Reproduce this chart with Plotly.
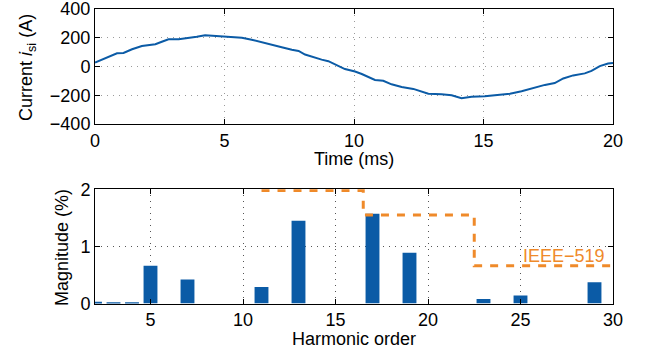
import plotly.graph_objects as go

# ---- data: current waveform ----
time_ms = [0.0, 0.4, 0.85, 1.1, 1.43, 1.81, 2.13, 2.33, 2.58, 2.84, 3.23, 3.55, 3.93, 4.25, 4.58,
           5.03, 5.28, 5.67, 6.05, 6.44, 6.83, 7.21, 7.6, 7.86, 8.11, 8.37, 8.75, 9.01, 9.33, 9.65,
           10.04, 10.3, 10.81, 11.13, 11.45, 11.84, 12.29, 12.61, 12.87, 13.38, 13.77, 14.15, 14.54,
           15.05, 15.44, 16.02, 16.47, 16.98, 17.37, 17.75, 18.08, 18.46, 18.91, 19.17, 19.49, 19.81, 20.0]
current_a = [28, 58, 92, 94, 120, 143, 150, 155, 172, 189, 189, 196, 207, 217, 212,
             207, 205, 200, 186, 170, 150, 134, 117, 108, 83, 67, 48, 37, 10, -18,
             -35, -52, -94, -99, -124, -142, -156, -172, -190, -193, -200, -221, -211,
             -207, -202, -190, -172, -147, -128, -115, -83, -62, -48, -30, 3, 21, 24]

# ---- data: harmonic spectrum ----
harmonic_order = list(range(2, 31))
magnitude_pct = [0.03, 0.01, 0.01, 0.66, 0, 0.42, 0, 0, 0, 0.29, 0, 1.45, 0, 0, 0,
                 1.57, 0, 0.89, 0, 0, 0, 0.08, 0, 0.14, 0, 0, 0, 0.37, 0]

# ---- data: IEEE-519 limit line ----
limit_x = [11, 16.5, 16.5, 22.5, 22.5, 30]
limit_y = [1.98, 1.98, 1.55, 1.55, 0.66, 0.66]
limit_label = "IEEE\u2212519"

x_ticks_top = [0, 5, 10, 15, 20]
y_ticks_top = [-400, -200, 0, 200, 400]
x_ticks_bot = [5, 10, 15, 20, 25, 30]
y_ticks_bot = [0, 1, 2]

BLUE = "#0b5ba6"
ORANGE = "#ef8a2a"
FONT = "Liberation Sans, Arial, sans-serif"
FS = 18


def axis_style(gridcolor):
    return dict(showline=True, linecolor="black", linewidth=1, mirror="allticks",
                ticks="inside", ticklen=5, tickcolor="black", automargin=False,
                ticklabeloverflow="allow",
                showgrid=True, gridcolor=gridcolor, griddash="1px,5px", gridwidth=1,
                zeroline=False, tickfont=dict(family=FONT, size=FS, color="black"))


fig = go.Figure()
fig.add_trace(go.Scatter(x=time_ms, y=current_a, mode="lines",
                         line=dict(color=BLUE, width=2), xaxis="x", yaxis="y",
                         showlegend=False))
fig.add_trace(go.Bar(x=harmonic_order, y=magnitude_pct, width=0.75,
                     marker=dict(color=BLUE, line=dict(width=0)),
                     xaxis="x2", yaxis="y2", showlegend=False))
fig.add_trace(go.Scatter(x=limit_x, y=limit_y, mode="lines",
                         line=dict(color=ORANGE, width=3, dash="8px,8px"),
                         xaxis="x2", yaxis="y2", showlegend=False))

xd = [95 / 646, 613 / 646]
fig.update_layout(
    width=646, height=358, margin=dict(l=0, r=0, t=0, b=0, pad=0, autoexpand=False),
    paper_bgcolor="white", plot_bgcolor="white",
    xaxis=dict(domain=xd, range=[0, 20], tickvals=x_ticks_top, anchor="y", **axis_style("#9a9a9a")),
    yaxis=dict(domain=[1 - 124 / 358, 1 - 9 / 358], range=[-400, 400], tickvals=y_ticks_top,
               anchor="x", **axis_style("#9a9a9a")),
    xaxis2=dict(domain=xd, range=[2, 30], tickvals=x_ticks_bot, anchor="y2", **axis_style("#555555")),
    yaxis2=dict(domain=[1 - 303.5 / 358, 1 - 189.3 / 358], range=[0, 2], tickvals=y_ticks_bot,
                anchor="x2", **axis_style("#555555")),
    font=dict(family=FONT, size=FS, color="black"),
)

tf = dict(family=FONT, size=FS, color="black")
fig.add_annotation(text="Time (ms)", x=354 / 646, y=1 - 159 / 358, xref="paper", yref="paper",
                   showarrow=False, xanchor="center", yanchor="middle", font=tf)
fig.add_annotation(text="Harmonic order", x=354 / 646, y=1 - 339 / 358, xref="paper", yref="paper",
                   showarrow=False, xanchor="center", yanchor="middle", font=tf)
fig.add_annotation(text="Current <i>i</i><sub>si</sub> (A)", x=27 / 646, y=1 - 67 / 358,
                   xref="paper", yref="paper", showarrow=False, textangle=-90,
                   xanchor="center", yanchor="middle", font=tf)
fig.add_annotation(text="Magnitude (%)", x=62 / 646, y=1 - 248 / 358,
                   xref="paper", yref="paper", showarrow=False, textangle=-90,
                   xanchor="center", yanchor="middle", font=tf)
fig.add_annotation(text=limit_label, x=29.7, y=0.84, xref="x2", yref="y2", showarrow=False,
                   xanchor="right", yanchor="middle",
                   font=dict(family=FONT, size=FS, color=ORANGE))

fig.write_html("out.html")
